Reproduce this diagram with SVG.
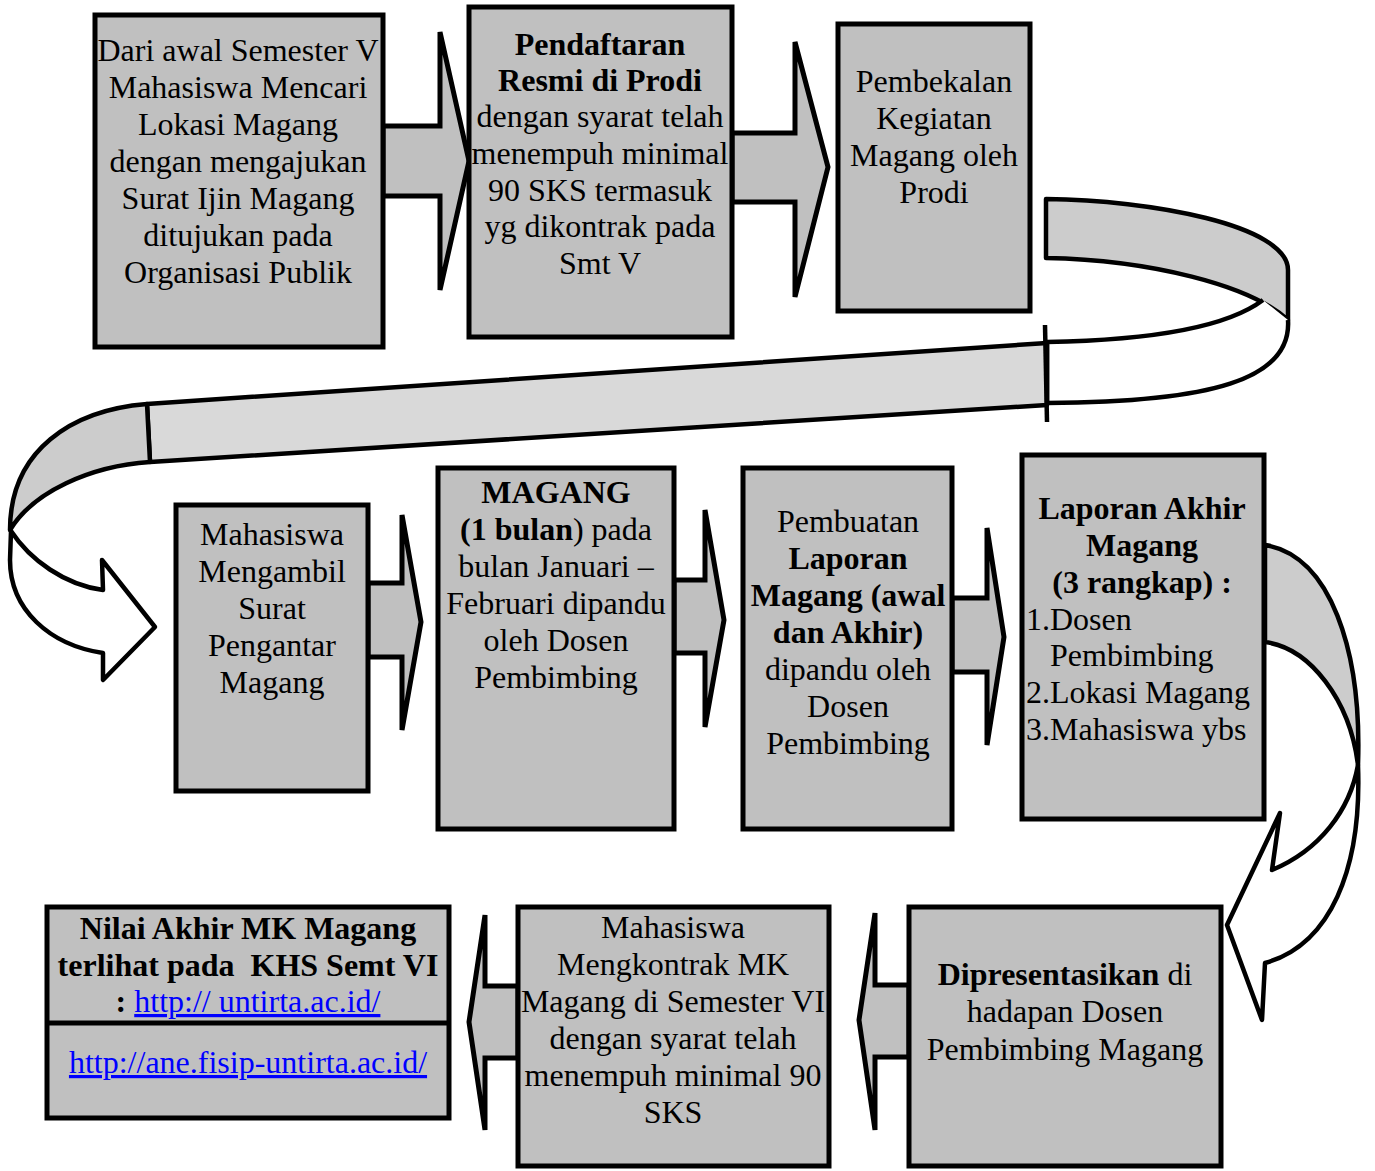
<svg xmlns="http://www.w3.org/2000/svg" width="1375" height="1171" viewBox="0 0 1375 1171">
<style>
.box{fill:#c0c0c0;stroke:#000;stroke-width:5}
.arr{fill:#c0c0c0;stroke:#000;stroke-width:5;stroke-linejoin:miter}
.rib{stroke:#000;stroke-width:4.5;stroke-linejoin:round}
text{font-family:"Liberation Serif","Times New Roman",serif;font-size:32px;fill:#000}
.c{text-anchor:middle}
.b{font-weight:bold}
.link{fill:#0000ff;text-decoration:underline}
</style>
<rect width="1375" height="1171" fill="#fff"/>
<g id="connectors">
  <polygon class="arr" points="383,126 440,126 440,32 469,161 440,290 440,196 383,196"/>
  <polygon class="arr" points="732,133 795,133 795,42 828,167 795,297 795,202 732,202"/>
  <polygon class="arr" points="368,583 402,583 402,515 421,622 402,730 402,657 368,657"/>
  <polygon class="arr" points="674,580 705,580 705,510 724,620 705,727 705,653 674,653"/>
  <polygon class="arr" points="952,598 987,598 987,528 1004,637 987,745 987,672 952,672"/>
  <polygon class="arr" points="518,986 485,986 485,915 469,1022 485,1130 485,1058 518,1058"/>
  <polygon class="arr" points="909,985 875,985 875,913 859,1020 875,1130 875,1057 909,1057"/>
  <!-- top-right loop -->
  <path class="rib" fill="#cccccc" d="M1046,199 C1150,200 1288,225 1288,270 L1288,320 C1250,285 1150,260 1046,258 Z"/>
  <path class="rib" fill="#ffffff" d="M1263,300 C1230,325 1160,340 1047,342 L1047,403 C1210,402 1292,380 1288,320"/>
  <path class="rib" fill="#d9d9d9" d="M1047,343 L147,404 L150,462 L1047,405 Z"/>
  <line x1="1045" y1="325" x2="1047" y2="422" stroke="#000" stroke-width="4.5"/>
  <!-- left curl -->
  <path class="rib" fill="#cccccc" d="M147,404 C72,410 10,450 10,530 C33,492 90,466 150,462 Z"/>
  <path class="rib" fill="#ffffff" d="M11,531 C30,560 65,585 103,590 L102,560 L155,627 L103,680 L103,653 C50,645 10,610 10,560 Z"/>
  <!-- right curl -->
  <path class="rib" fill="#cccccc" d="M1265,545 C1330,555 1362,650 1358,765 C1350,700 1310,648 1265,642 Z"/>
  <path class="rib" fill="#ffffff" d="M1358,765 C1362,870 1330,945 1265,963 L1262,1020 L1227,925 L1280,813 L1272,870 C1320,850 1350,810 1358,765 Z"/>
</g>
<g id="n1">
  <rect class="box" x="95" y="15" width="288" height="332"/>
  <text class="c" x="238" y="61">Dari awal Semester V</text>
  <text class="c" x="238" y="98">Mahasiswa Mencari</text>
  <text class="c" x="238" y="135">Lokasi Magang</text>
  <text class="c" x="238" y="172">dengan mengajukan</text>
  <text class="c" x="238" y="209">Surat Ijin Magang</text>
  <text class="c" x="238" y="246">ditujukan pada</text>
  <text class="c" x="238" y="283">Organisasi Publik</text>
</g>
<g id="n2">
  <rect class="box" x="469" y="7" width="263" height="330"/>
  <text class="c b" x="600" y="55">Pendaftaran</text>
  <text class="c b" x="600" y="91">Resmi di Prodi</text>
  <text class="c" x="600" y="127">dengan syarat telah</text>
  <text class="c" x="600" y="164">menempuh minimal</text>
  <text class="c" x="600" y="201">90 SKS termasuk</text>
  <text class="c" x="600" y="237">yg dikontrak pada</text>
  <text class="c" x="600" y="274">Smt V</text>
</g>
<g id="n3">
  <rect class="box" x="838" y="24" width="192" height="287"/>
  <text class="c" x="934" y="92">Pembekalan</text>
  <text class="c" x="934" y="129">Kegiatan</text>
  <text class="c" x="934" y="166">Magang oleh</text>
  <text class="c" x="934" y="203">Prodi</text>
</g>
<g id="n4">
  <rect class="box" x="176" y="505" width="192" height="286"/>
  <text class="c" x="272" y="545">Mahasiswa</text>
  <text class="c" x="272" y="582">Mengambil</text>
  <text class="c" x="272" y="619">Surat</text>
  <text class="c" x="272" y="656">Pengantar</text>
  <text class="c" x="272" y="693">Magang</text>
</g>
<g id="n5">
  <rect class="box" x="438" y="468" width="236" height="361"/>
  <text class="c b" x="556" y="503">MAGANG</text>
  <text class="c" x="556" y="540"><tspan class="b">(1 bulan</tspan>) pada</text>
  <text class="c" x="556" y="577">bulan Januari –</text>
  <text class="c" x="556" y="614">Februari dipandu</text>
  <text class="c" x="556" y="651">oleh Dosen</text>
  <text class="c" x="556" y="688">Pembimbing</text>
</g>
<g id="n6">
  <rect class="box" x="743" y="468" width="209" height="361"/>
  <text class="c" x="848" y="532">Pembuatan</text>
  <text class="c b" x="848" y="569">Laporan</text>
  <text class="c b" x="848" y="606">Magang (awal</text>
  <text class="c b" x="848" y="643">dan Akhir)</text>
  <text class="c" x="848" y="680">dipandu oleh</text>
  <text class="c" x="848" y="717">Dosen</text>
  <text class="c" x="848" y="754">Pembimbing</text>
</g>
<g id="n7">
  <rect class="box" x="1022" y="455" width="242" height="364"/>
  <text class="c b" x="1142" y="519">Laporan Akhir</text>
  <text class="c b" x="1142" y="556">Magang</text>
  <text class="c b" x="1142" y="593">(3 rangkap) :</text>
  <text x="1026" y="630">1.Dosen</text>
  <text x="1050" y="666">Pembimbing</text>
  <text x="1026" y="703">2.Lokasi Magang</text>
  <text x="1026" y="740">3.Mahasiswa ybs</text>
</g>
<g id="n8">
  <rect class="box" x="47" y="907" width="402" height="211"/>
  <line x1="47" y1="1023" x2="449" y2="1023" stroke="#000" stroke-width="5"/>
  <text class="c b" x="248" y="939">Nilai Akhir MK Magang</text>
  <text class="c b" x="248" y="976">terlihat pada&#160; KHS Semt VI</text>
  <text class="c" x="248" y="1012"><tspan class="b">: </tspan><tspan class="link">http:// untirta.ac.id/</tspan></text>
  <text class="c link" x="248" y="1073">http://ane.fisip-untirta.ac.id/</text>
</g>
<g id="n9">
  <rect class="box" x="518" y="907" width="311" height="259"/>
  <text class="c" x="673" y="938">Mahasiswa</text>
  <text class="c" x="673" y="975">Mengkontrak MK</text>
  <text class="c" x="673" y="1012">Magang di Semester VI</text>
  <text class="c" x="673" y="1049">dengan syarat telah</text>
  <text class="c" x="673" y="1086">menempuh minimal 90</text>
  <text class="c" x="673" y="1123">SKS</text>
</g>
<g id="n10">
  <rect class="box" x="909" y="907" width="312" height="259"/>
  <text class="c" x="1065" y="985"><tspan class="b">Dipresentasikan</tspan> di</text>
  <text class="c" x="1065" y="1022">hadapan Dosen</text>
  <text class="c" x="1065" y="1060">Pembimbing Magang</text>
</g>
</svg>
